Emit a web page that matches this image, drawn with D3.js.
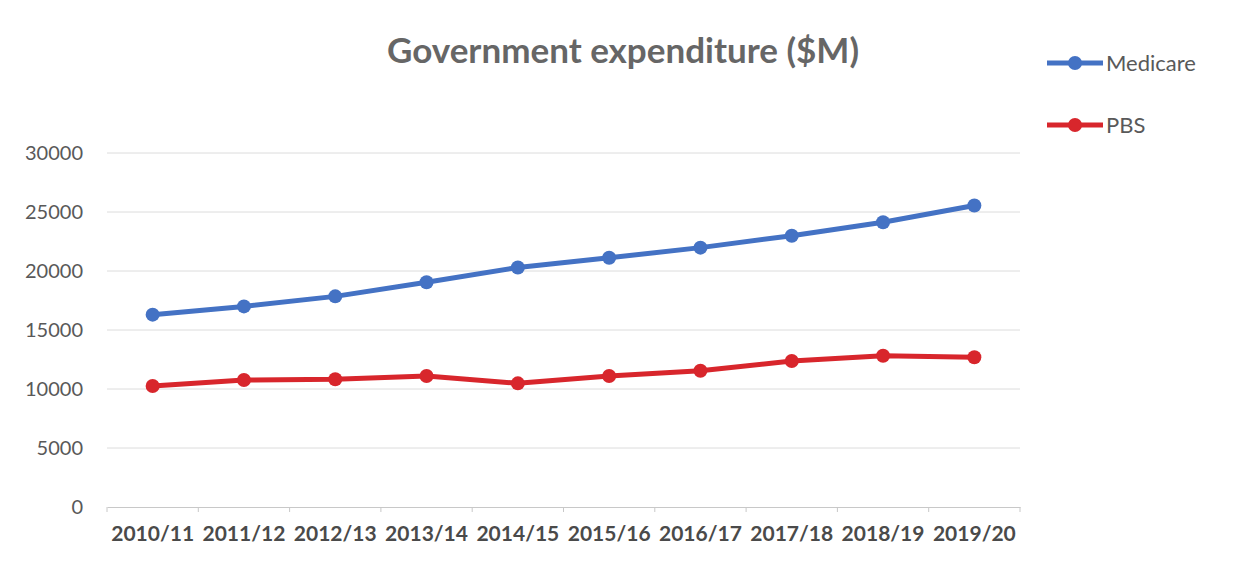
<!DOCTYPE html>
<html>
<head>
<meta charset="utf-8">
<script src="https://cdn.jsdelivr.net/npm/d3@7"></script>
<style>
  body { margin: 0; background: #fff; }
  text { font-family: Lato, "Open Sans", sans-serif; }
</style>
</head>
<body>
<div id="chart"></div>
<script>
// data
var years = ["2010/11", "2011/12", "2012/13", "2013/14", "2014/15",
             "2015/16", "2016/17", "2017/18", "2018/19", "2019/20"];
var medicare = [16300, 17000, 17850, 19050, 20300, 21120, 21980, 22990, 24130, 25550];
var pbs = [10250, 10760, 10820, 11100, 10480, 11100, 11550, 12370, 12820, 12690];
var yTicks = [0, 5000, 10000, 15000, 20000, 25000, 30000];
var seriesNames = ["Medicare", "PBS"];
var seriesColors = ["#4472c4", "#d8262c"];

var W = 1234, H = 580;
var margin = {top: 153, right: 214, bottom: 73, left: 107};
var width = W - margin.left - margin.right;
var height = H - margin.top - margin.bottom;

var svg = d3.select("#chart").append("svg")
    .attr("width", W)
    .attr("height", H);

var g = svg.append("g")
    .attr("transform", "translate(" + margin.left + "," + margin.top + ")");

var x = d3.scaleBand().domain(years).range([0, width]);
var y = d3.scaleLinear().domain([0, 30000]).range([height, 0]);

// gridlines
g.selectAll(".grid")
  .data(yTicks.slice(1))
  .enter().append("line")
    .attr("x1", 0).attr("x2", width)
    .attr("y1", function(d) { return y(d); })
    .attr("y2", function(d) { return y(d); })
    .attr("stroke", "#dcdcdc")
    .attr("stroke-width", 1);

// y axis labels
var yAxis = g.append("g")
  .call(d3.axisLeft(y).tickValues(yTicks).tickFormat(d3.format("d")).tickSize(0).tickPadding(24));
yAxis.select(".domain").remove();
yAxis.selectAll("text")
  .attr("fill", "#595959")
  .style("font-size", "20px");

// x axis, ticks between categories
var xAxis = g.append("g")
  .attr("transform", "translate(0," + height + ")")
  .call(d3.axisBottom(x).tickSize(0).tickPadding(19));
xAxis.select(".domain").attr("stroke", "#c8c8c8");
xAxis.selectAll("text")
  .attr("fill", "#4a4a4a")
  .style("font-size", "21px")
  .style("font-weight", "bold");
xAxis.selectAll(".sep")
  .data(d3.range(years.length + 1))
  .enter().append("line")
    .attr("x1", function(i) { return i * x.step(); })
    .attr("x2", function(i) { return i * x.step(); })
    .attr("y1", 0).attr("y2", 5)
    .attr("stroke", "#c8c8c8");

// lines
var line = d3.line()
  .x(function(d, i) { return x(years[i]) + x.bandwidth() / 2; })
  .y(function(d) { return y(d); });

[medicare, pbs].forEach(function(vals, k) {
  g.append("path")
    .datum(vals)
    .attr("d", line)
    .attr("fill", "none")
    .attr("stroke", seriesColors[k])
    .attr("stroke-width", 5)
    .attr("stroke-linejoin", "round");
  g.selectAll(".pt" + k)
    .data(vals)
    .enter().append("circle")
      .attr("cx", function(d, i) { return x(years[i]) + x.bandwidth() / 2; })
      .attr("cy", function(d) { return y(d); })
      .attr("r", 7)
      .attr("fill", seriesColors[k]);
});

// title
svg.append("text")
  .attr("x", 623).attr("y", 63)
  .attr("text-anchor", "middle")
  .attr("fill", "#666666")
  .style("font-size", "35px")
  .style("font-weight", "bold")
  .text("Government expenditure ($M)");

// legend
var legend = svg.selectAll(".legend")
  .data(seriesNames)
  .enter().append("g")
    .attr("transform", function(d, i) { return "translate(1047," + (63 + i * 62) + ")"; });
legend.append("line")
  .attr("x1", 0).attr("x2", 56)
  .attr("stroke", function(d, i) { return seriesColors[i]; })
  .attr("stroke-width", 5);
legend.append("circle")
  .attr("cx", 28).attr("r", 7)
  .attr("fill", function(d, i) { return seriesColors[i]; });
legend.append("text")
  .attr("x", 59).attr("y", 8)
  .attr("fill", "#595959")
  .style("font-size", "22px")
  .text(function(d) { return d; });
</script>
</body>
</html>
